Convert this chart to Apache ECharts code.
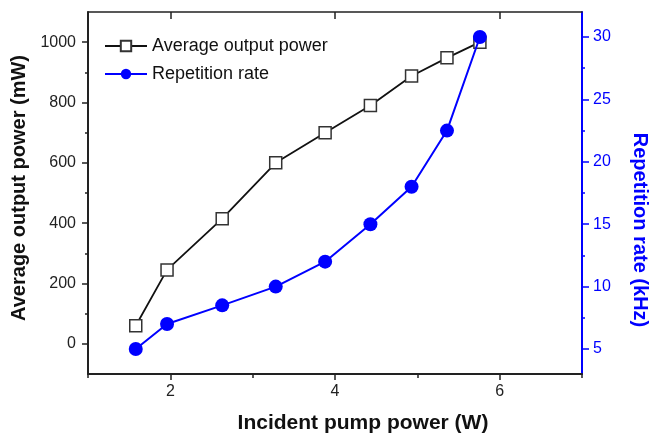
<!DOCTYPE html>
<html>
<head>
<meta charset="utf-8">
<script src="https://cdn.jsdelivr.net/npm/echarts@6.0.0/dist/echarts.min.js"></script>
<style>
  html, body { margin: 0; padding: 0; background: #fff; }
  #main { width: 651px; height: 438px; }
</style>
</head>
<body>
<div id="main"></div>
<script>
const pumpPower = [1.58, 1.96, 2.63, 3.28, 3.88, 4.43, 4.93, 5.36, 5.76]
const outputPower = [60, 245, 415, 600, 700, 790, 888, 948, 1000]
const repRate = [5, 7, 8.5, 10, 12, 15, 18, 22.5, 30]

const xMajor = [2, 4, 6]
const xMinor = [1, 3, 5, 7]
const leftMajor = [0, 200, 400, 600, 800, 1000]
const leftMinor = [100, 300, 500, 700, 900]
const rightMajor = [5, 10, 15, 20, 25, 30]
const rightMinor = [7.5, 12.5, 17.5, 22.5, 27.5]

const font = 'Liberation Sans, Arial, Helvetica, sans-serif'
const blue = '#0000ff'

function pairs(xs, ys) {
  return xs.map((x, i) => [x, ys[i]])
}

function plain(v) {
  return String(v)
}

function option() {
  return {
    animation: false,
    textStyle: { fontFamily: font },
    grid: { left: 88, right: 69, top: 12, bottom: 64, outerBoundsMode: 'none', containLabel: false },
    legend: {
      left: 99,
      top: 32,
      orient: 'vertical',
      itemWidth: 42,
      itemHeight: 13,
      itemGap: 10,
      textStyle: { fontSize: 18, color: '#111', fontFamily: font },
      data: ['Average output power', 'Repetition rate']
    },
    xAxis: [
      {
        type: 'value', position: 'bottom', min: 1, max: 7,
        name: 'Incident pump power (W)', nameLocation: 'middle', nameGap: 39,
        nameTextStyle: { fontSize: 21, fontWeight: 'bold', color: '#111', fontFamily: font, padding: [0, 0, 0, 56] },
        axisLine: { onZero: false, lineStyle: { color: '#222', width: 2 } },
        axisTick: { length: 6, customValues: xMajor, lineStyle: { color: '#222', width: 1.5 } },
        axisLabel: { customValues: xMajor, fontSize: 16, color: '#222', margin: 10, formatter: plain },
        splitLine: { show: false }
      },
      {
        type: 'value', position: 'bottom', min: 1, max: 7,
        axisLine: { show: false, onZero: false },
        axisTick: { length: 4, customValues: xMinor, lineStyle: { color: '#222', width: 1.5 } },
        axisLabel: { show: false },
        splitLine: { show: false }
      },
      {
        type: 'value', position: 'top', min: 1, max: 7,
        axisLine: { onZero: false, lineStyle: { color: '#222', width: 1.5 } },
        axisTick: { inside: true, length: 7, customValues: xMajor, lineStyle: { color: '#222', width: 1.5 } },
        axisLabel: { show: false },
        splitLine: { show: false }
      }
    ],
    yAxis: [
      {
        type: 'value', position: 'left', min: -100, max: 1100,
        name: 'Average output power (mW)', nameLocation: 'middle', nameGap: 58, nameRotate: 90,
        nameTextStyle: { fontSize: 20, fontWeight: 'bold', color: '#111', fontFamily: font, padding: [0, 0, 0, 10] },
        axisLine: { show: true, onZero: false, lineStyle: { color: '#222', width: 2 } },
        axisTick: { show: true, length: 6, customValues: leftMajor, lineStyle: { color: '#222', width: 1.5 } },
        axisLabel: { customValues: leftMajor, fontSize: 16, color: '#222', margin: 12, formatter: plain },
        splitLine: { show: false }
      },
      {
        type: 'value', position: 'left', min: -100, max: 1100,
        axisLine: { show: false, onZero: false },
        axisTick: { show: true, length: 3, customValues: leftMinor, lineStyle: { color: '#222', width: 1.5 } },
        axisLabel: { show: false },
        splitLine: { show: false }
      },
      {
        type: 'value', position: 'right', min: 3, max: 32,
        name: 'Repetition rate (kHz)', nameLocation: 'middle', nameGap: 48, nameRotate: -90,
        nameTextStyle: { fontSize: 20, fontWeight: 'bold', color: blue, fontFamily: font, padding: [0, 0, 0, 74] },
        axisLine: { show: true, onZero: false, lineStyle: { color: blue, width: 2 } },
        axisTick: { show: true, length: 7, customValues: rightMajor, lineStyle: { color: blue, width: 1.5 } },
        axisLabel: { customValues: rightMajor, fontSize: 16, color: blue, margin: 11, formatter: plain },
        splitLine: { show: false }
      },
      {
        type: 'value', position: 'right', min: 3, max: 32,
        axisLine: { show: false, onZero: false },
        axisTick: { show: true, length: 3, customValues: rightMinor, lineStyle: { color: blue, width: 1.5 } },
        axisLabel: { show: false },
        splitLine: { show: false }
      }
    ],
    series: [
      {
        name: 'Average output power',
        type: 'line',
        xAxisIndex: 0,
        yAxisIndex: 0,
        data: pairs(pumpPower, outputPower),
        symbol: 'rect',
        symbolSize: 12,
        itemStyle: { color: '#fff', borderColor: '#333', borderWidth: 1.5 },
        lineStyle: { color: '#111', width: 1.8 },
        z: 3
      },
      {
        name: 'Repetition rate',
        type: 'line',
        xAxisIndex: 0,
        yAxisIndex: 2,
        data: pairs(pumpPower, repRate),
        symbol: 'circle',
        symbolSize: 14,
        itemStyle: { color: blue, borderWidth: 0 },
        lineStyle: { color: blue, width: 2 },
        z: 4
      }
    ]
  }
}

const chart = echarts.init(document.getElementById('main'))
chart.setOption(option())
</script>
</body>
</html>
